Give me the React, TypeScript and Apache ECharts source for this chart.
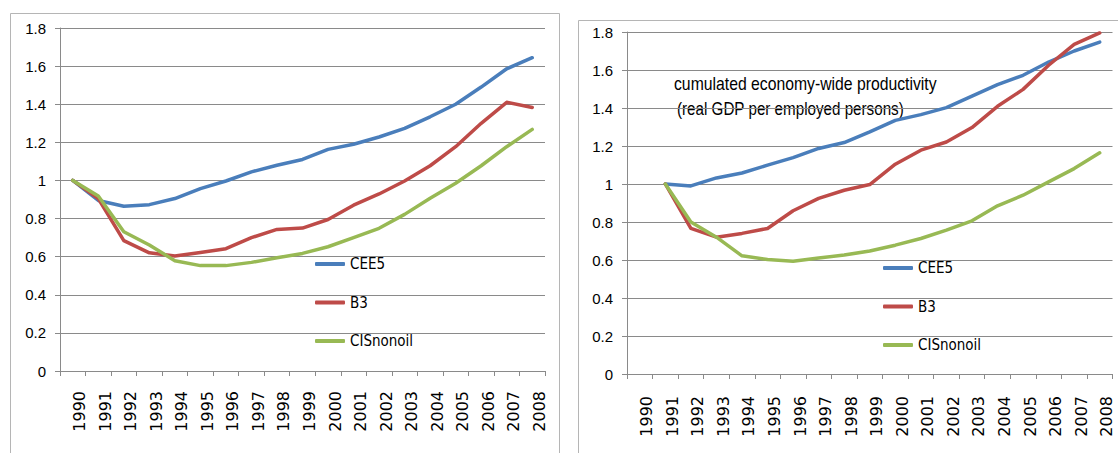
import React, { useEffect, useRef } from "react";
import * as echarts from "echarts";

const years = ["1990","1991","1992","1993","1994","1995","1996","1997","1998","1999","2000","2001","2002","2003","2004","2005","2006","2007","2008"];
const yTicks = { min: 0, max: 1.8, interval: 0.2 };

const leftCEE5 = [1.0, 0.895, 0.865, 0.873, 0.905, 0.957, 0.997, 1.045, 1.08, 1.11, 1.163, 1.19, 1.228, 1.273, 1.334, 1.40, 1.49, 1.586, 1.644];
const leftB3 = [1.0, 0.905, 0.684, 0.62, 0.603, 0.622, 0.642, 0.70, 0.743, 0.75, 0.795, 0.87, 0.929, 0.997, 1.077, 1.177, 1.30, 1.41, 1.383];
const leftCIS = [1.0, 0.918, 0.731, 0.661, 0.579, 0.553, 0.553, 0.57, 0.594, 0.617, 0.652, 0.70, 0.749, 0.822, 0.906, 0.985, 1.077, 1.177, 1.268];

const rightCEE5 = [null, 1.0, 0.99, 1.032, 1.058, 1.099, 1.139, 1.187, 1.218, 1.274, 1.335, 1.365, 1.402, 1.462, 1.523, 1.572, 1.642, 1.70, 1.747];
const rightB3 = [null, 1.0, 0.766, 0.72, 0.74, 0.766, 0.859, 0.924, 0.967, 0.997, 1.104, 1.178, 1.221, 1.297, 1.409, 1.498, 1.625, 1.735, 1.795];
const rightCIS = [null, 1.0, 0.80, 0.72, 0.622, 0.603, 0.594, 0.61, 0.626, 0.647, 0.678, 0.713, 0.757, 0.806, 0.885, 0.941, 1.011, 1.081, 1.164];

const seriesNames = ["CEE5", "B3", "CISnonoil"];
const colors = ["#4a7ebb", "#be4b48", "#98b954"];
const annotation = ["cumulated economy-wide productivity", "(real GDP per employed persons)"];

const NARROW = "'DejaVu Sans Condensed', sans-serif";
const ARIAL = "'Liberation Sans', Arial, sans-serif";
const WIDE = "'DejaVu Sans', Verdana, sans-serif";
const GRID = "#8a8a8a";

export default function App() {
  const ref = useRef<HTMLDivElement>(null);
  useEffect(() => {
    document.body.style.margin = "0";
    const chart = echarts.init(ref.current!, null, { renderer: "svg" });
    const xAxis = (gridIndex: number, margin: number) => ({
      type: "category",
      gridIndex,
      data: years,
      boundaryGap: true,
      axisLine: { lineStyle: { color: GRID, width: 1 } },
      axisTick: { show: true, length: 5, interval: 0, lineStyle: { color: GRID } },
      axisLabel: { interval: 0, rotate: 90, margin, color: "#000", fontFamily: WIDE, fontSize: 16, verticalAlign: "top", lineHeight: 14 },
      splitLine: { show: false },
    });
    const yAxis = (gridIndex: number) => ({
      type: "value",
      gridIndex,
      ...yTicks,
      axisLine: { show: true, lineStyle: { color: GRID, width: 1 } },
      axisTick: { show: true, length: 5, lineStyle: { color: GRID } },
      axisLabel: { margin: 14, color: "#000", fontFamily: ARIAL, fontSize: 15 },
      splitLine: { show: true, lineStyle: { color: GRID, width: 1 } },
    });
    const mk = (name: string, data: (number | null)[], idx: number, c: number) => ({
      type: "line",
      name,
      data,
      xAxisIndex: idx,
      yAxisIndex: idx,
      showSymbol: false,
      symbol: "none",
      color: colors[c],
      lineStyle: { width: 3.5, color: colors[c], cap: "round", join: "round" },
    });
    const legend = (left: number, top: number) => ({
      orient: "vertical",
      left,
      top,
      data: seriesNames,
      icon: "roundRect",
      itemWidth: 30,
      itemHeight: 4,
      itemGap: 22.5,
      selectedMode: false,
      textStyle: { fontFamily: NARROW, fontSize: 15, color: "#000", lineHeight: 16 },
    });
    chart.setOption({
      animation: false,
      grid: [
        { left: 60, top: 28, width: 485, height: 343 },
        { left: 627, top: 32, width: 485.5, height: 342 },
      ],
      xAxis: [xAxis(0, 20), xAxis(1, 22)],
      yAxis: [yAxis(0), yAxis(1)],
      legend: [legend(310, 251), legend(878, 255)],
      series: [
        mk("CEE5", leftCEE5, 0, 0),
        mk("B3", leftB3, 0, 1),
        mk("CISnonoil", leftCIS, 0, 2),
        mk("CEE5", rightCEE5, 1, 0),
        mk("B3", rightB3, 1, 1),
        mk("CISnonoil", rightCIS, 1, 2),
      ],
      graphic: [
        { type: "rect", silent: true, z: -1, shape: { x: 10.5, y: 13.5, width: 549, height: 470 }, style: { fill: "none", stroke: "#b5b5b5", lineWidth: 1 } },
        { type: "rect", silent: true, z: -1, shape: { x: 578.5, y: 20.5, width: 600, height: 470 }, style: { fill: "none", stroke: "#b5b5b5", lineWidth: 1 } },
        { type: "text", x: 674, y: 83, scaleX: 0.83, style: { text: annotation[0], fontFamily: ARIAL, fontSize: 19, fill: "#000", verticalAlign: "middle" } },
        { type: "text", x: 677, y: 108, scaleX: 0.8, style: { text: annotation[1], fontFamily: ARIAL, fontSize: 19, fill: "#000", verticalAlign: "middle" } },
      ],
    });
    return () => chart.dispose();
  }, []);
  return <div ref={ref} style={{ width: 1118, height: 453 }} />;
}
